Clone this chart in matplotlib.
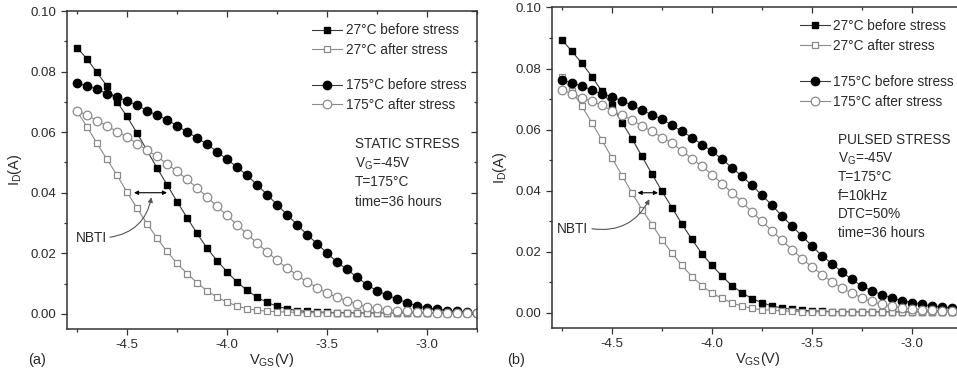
import matplotlib
matplotlib.use("Agg")
import matplotlib.pyplot as plt
import matplotlib.ticker as mticker

plt.rcParams["font.family"] = ["Liberation Sans", "DejaVu Sans"]
plt.rcParams["mathtext.fontset"] = "custom"
plt.rcParams["mathtext.rm"] = "Liberation Sans"
plt.rcParams["mathtext.it"] = "Liberation Sans"

# gate voltage sweep (V), same grid for every curve
VGS = [-4.75, -4.70, -4.65, -4.60, -4.55, -4.50, -4.45, -4.40, -4.35, -4.30,
       -4.25, -4.20, -4.15, -4.10, -4.05, -4.00, -3.95, -3.90, -3.85, -3.80,
       -3.75, -3.70, -3.65, -3.60, -3.55, -3.50, -3.45, -3.40, -3.35, -3.30,
       -3.25, -3.20, -3.15, -3.10, -3.05, -3.00, -2.95, -2.90, -2.85, -2.80,
       -2.75]

# (a) static stress, drain current I_D (A)
A_27_BEFORE = [0.0879, 0.0842, 0.0797, 0.0752, 0.0700, 0.0652, 0.0597, 0.0540, 0.0482, 0.0427,
               0.0371, 0.0318, 0.0266, 0.0217, 0.0176, 0.0139, 0.0105, 0.0078, 0.0055, 0.0038,
               0.0025, 0.0017, 0.0011, 0.0008, 0.0006, 0.0005, 0.0004, 0.0004, 0.0003, 0.0003,
               0.0003, 0.0003, 0.0003, 0.0003, 0.0003, 0.0003, 0.0003, 0.0003, 0.0003, 0.0003,
               0.0003]
A_27_AFTER = [0.0669, 0.0618, 0.0563, 0.0510, 0.0458, 0.0402, 0.0349, 0.0298, 0.0250, 0.0206,
              0.0167, 0.0133, 0.0103, 0.0076, 0.0055, 0.0039, 0.0026, 0.0017, 0.0012, 0.0009,
              0.0007, 0.0006, 0.0005, 0.0004, 0.0004, 0.0003, 0.0003, 0.0003, 0.0003, 0.0003,
              0.0003, 0.0003, 0.0003, 0.0003, 0.0003, 0.0003, 0.0003, 0.0003, 0.0003, 0.0003,
              0.0003]
A_175_BEFORE = [0.0762, 0.0753, 0.0742, 0.0727, 0.0715, 0.0703, 0.0689, 0.0671, 0.0656, 0.0641,
                0.0621, 0.0601, 0.0581, 0.0560, 0.0536, 0.0510, 0.0485, 0.0457, 0.0427, 0.0394,
                0.0361, 0.0328, 0.0295, 0.0262, 0.0232, 0.0201, 0.0171, 0.0147, 0.0121, 0.0096,
                0.0076, 0.0062, 0.0049, 0.0037, 0.0026, 0.0019, 0.0015, 0.0011, 0.0008, 0.0006,
                0.0004]
A_175_AFTER = [0.0669, 0.0657, 0.0637, 0.0621, 0.0602, 0.0584, 0.0562, 0.0541, 0.0520, 0.0495,
               0.0471, 0.0444, 0.0416, 0.0386, 0.0355, 0.0325, 0.0294, 0.0264, 0.0234, 0.0205,
               0.0177, 0.0151, 0.0129, 0.0105, 0.0087, 0.0068, 0.0055, 0.0043, 0.0032, 0.0024,
               0.0018, 0.0013, 0.0010, 0.0008, 0.0006, 0.0005, 0.0004, 0.0004, 0.0003, 0.0003,
               0.0003]

# (b) pulsed stress
B_27_BEFORE = [0.0894, 0.0856, 0.0817, 0.0773, 0.0725, 0.0679, 0.0623, 0.0570, 0.0512, 0.0454,
               0.0398, 0.0344, 0.0290, 0.0240, 0.0193, 0.0155, 0.0120, 0.0088, 0.0066, 0.0046,
               0.0033, 0.0022, 0.0016, 0.0011, 0.0008, 0.0006, 0.0005, 0.0004, 0.0004, 0.0003,
               0.0003, 0.0003, 0.0003, 0.0003, 0.0003, 0.0003, 0.0003, 0.0003, 0.0003, 0.0003,
               0.0003]
B_27_AFTER = [0.0772, 0.0726, 0.0676, 0.0622, 0.0565, 0.0507, 0.0449, 0.0393, 0.0338, 0.0289,
              0.0239, 0.0195, 0.0155, 0.0118, 0.0089, 0.0064, 0.0047, 0.0032, 0.0022, 0.0014,
              0.0010, 0.0008, 0.0006, 0.0005, 0.0004, 0.0003, 0.0003, 0.0003, 0.0003, 0.0003,
              0.0003, 0.0003, 0.0003, 0.0003, 0.0003, 0.0003, 0.0003, 0.0003, 0.0003, 0.0003,
              0.0003]
B_175_BEFORE = [0.0762, 0.0753, 0.0743, 0.0729, 0.0716, 0.0707, 0.0694, 0.0680, 0.0663, 0.0649,
                0.0634, 0.0614, 0.0594, 0.0574, 0.0551, 0.0529, 0.0503, 0.0475, 0.0447, 0.0417,
                0.0385, 0.0352, 0.0317, 0.0284, 0.0251, 0.0219, 0.0186, 0.0161, 0.0133, 0.0109,
                0.0087, 0.0072, 0.0059, 0.0048, 0.0040, 0.0033, 0.0027, 0.0022, 0.0019, 0.0016,
                0.0014]
B_175_AFTER = [0.0731, 0.0717, 0.0705, 0.0692, 0.0680, 0.0661, 0.0647, 0.0631, 0.0612, 0.0594,
               0.0574, 0.0555, 0.0530, 0.0505, 0.0480, 0.0452, 0.0423, 0.0393, 0.0363, 0.0330,
               0.0299, 0.0268, 0.0237, 0.0207, 0.0177, 0.0150, 0.0125, 0.0101, 0.0081, 0.0064,
               0.0048, 0.0037, 0.0027, 0.0021, 0.0016, 0.0012, 0.0010, 0.0008, 0.0007, 0.0006,
               0.0005]

LABELS = ["27°C before stress", "27°C after stress", "175°C before stress", "175°C after stress"]
NOTE_A = ["STATIC STRESS", "V$_{\\mathrm{G}}$=-45V", "T=175°C", "time=36 hours"]
NOTE_B = ["PULSED STRESS", "V$_{\\mathrm{G}}$=-45V", "T=175°C", "f=10kHz", "DTC=50%", "time=36 hours"]

DARK  = "#3a3a3a"
LIGHT = "#8a8a8a"
TEXT  = "#2a2a2a"

# marker styles: filled square, open square, filled circle, open circle
STYLES = [
    dict(marker="s", ms=5.0, mfc="black", mec="black", color=DARK),
    dict(marker="s", ms=5.0, mfc="white", mec=LIGHT, mew=0.9, color=LIGHT),
    dict(marker="o", ms=6.0, mfc="black", mec="black", color=DARK),
    dict(marker="o", ms=6.2, mfc="white", mec=LIGHT, mew=0.9, color=LIGHT),
]


def style_axes(ax, xmax):
    ax.set_xlim(-4.8, xmax)
    ax.set_ylim(-0.005, 0.10)
    ax.xaxis.set_major_locator(mticker.MultipleLocator(0.5))
    ax.xaxis.set_minor_locator(mticker.MultipleLocator(0.25))
    ax.yaxis.set_major_locator(mticker.MultipleLocator(0.02))
    ax.yaxis.set_minor_locator(mticker.MultipleLocator(0.01))
    ax.yaxis.set_major_formatter(mticker.FormatStrFormatter("%.2f"))
    ax.xaxis.set_major_formatter(mticker.FormatStrFormatter("%.1f"))
    for s in ax.spines.values():
        s.set_color("#333333")
        s.set_linewidth(1.1)
    ax.tick_params(which="both", direction="out", colors="#333333", labelcolor=TEXT,
                   labelsize=9.5, width=0.9)
    ax.tick_params(which="major", length=4)
    ax.tick_params(which="minor", length=2.5)
    # Origin-style: ticks mirrored inward on top/right
    sec_x = ax.secondary_xaxis("top")
    sec_y = ax.secondary_yaxis("right")
    for sec in (sec_x, sec_y):
        sec.tick_params(which="both", direction="in", colors="#333333", width=0.9)
        sec.tick_params(which="major", length=4)
        sec.tick_params(which="minor", length=2.5)
        sec.spines[:].set_visible(False)
    sec_x.xaxis.set_major_locator(mticker.MultipleLocator(0.5))
    sec_x.xaxis.set_minor_locator(mticker.MultipleLocator(0.25))
    sec_x.set_xticklabels([])
    sec_y.yaxis.set_major_locator(mticker.MultipleLocator(0.02))
    sec_y.yaxis.set_minor_locator(mticker.MultipleLocator(0.01))
    sec_y.set_yticklabels([])
    ax.set_xlabel("V$_{\\mathrm{GS}}$(V)", fontsize=10.5, color=TEXT, labelpad=0)
    ax.set_ylabel("I$_{\\mathrm{D}}$(A)", fontsize=10.5, color=TEXT, labelpad=5)


def add_legend(ax, handles, labels, anchor):
    leg = ax.legend(handles, labels, loc="upper left", bbox_to_anchor=anchor,
                    frameon=False, fontsize=9.8, handlelength=2.2, handletextpad=0.25,
                    labelspacing=0.42, borderpad=0, borderaxespad=0)
    for t in leg.get_texts():
        t.set_color(TEXT)
    return leg


def draw_panel(ax, series, notes, note_xy, note_step, arrow, curve, nbti_xy, legend_pos, xmax):
    handles = []
    for ys, st in zip(series, STYLES):
        h, = ax.plot(VGS, ys, lw=0.8, clip_on=True, **st)
        handles.append(h)
    style_axes(ax, xmax)

    # two legend blocks: 27°C pair on top, 175°C pair below it
    lx, ly_top, ly_bot = legend_pos
    leg1 = add_legend(ax, handles[:2], LABELS[:2], (lx, ly_top))
    ax.add_artist(leg1)
    add_legend(ax, handles[2:], LABELS[2:], (lx, ly_bot))

    x0, y0 = note_xy
    for i, line in enumerate(notes):
        ax.text(x0, y0 - i * note_step, line, fontsize=9.8, color=TEXT, va="center", ha="left")

    # horizontal double arrow showing the NBTI shift
    ax.annotate("", xy=arrow[1], xytext=arrow[0],
                arrowprops=dict(arrowstyle="<|-|>", color="black", lw=0.8,
                                mutation_scale=6, shrinkA=0, shrinkB=0))
    ax.annotate("", xy=curve[1], xytext=curve[0],
                arrowprops=dict(arrowstyle="-|>", color="#555555", lw=0.8,
                                mutation_scale=7, shrinkA=0, shrinkB=0,
                                connectionstyle="arc3,rad=0.35"))
    ax.text(nbti_xy[0], nbti_xy[1], "NBTI", fontsize=9.8, color=TEXT, va="center", ha="left")


fig = plt.figure(figsize=(9.57, 3.76), dpi=100)
ax_a = fig.add_axes([0.0700, 0.125, 0.4284, 0.8457])
ax_b = fig.add_axes([0.5768, 0.1277, 0.4295, 0.8524])

draw_panel(ax_a, [A_27_BEFORE, A_27_AFTER, A_175_BEFORE, A_175_AFTER], NOTE_A,
           note_xy=(-3.362, 0.0560), note_step=0.0063,
           arrow=((-4.465, 0.0400), (-4.30, 0.0400)),
           curve=((-4.585, 0.0253), (-4.378, 0.0385)),
           nbti_xy=(-4.755, 0.0252),
           legend_pos=(0.598, 0.961, 0.788), xmax=-2.75)

draw_panel(ax_b, [B_27_BEFORE, B_27_AFTER, B_175_BEFORE, B_175_AFTER], NOTE_B,
           note_xy=(-3.37, 0.0565), note_step=0.00605,
           arrow=((-4.372, 0.0393), (-4.27, 0.0393)),
           curve=((-4.60, 0.0275), (-4.313, 0.0372)),
           nbti_xy=(-4.775, 0.0275),
           legend_pos=(0.603, 0.964, 0.789), xmax=-2.745)

fig.text(28 / 957, 1 - 360 / 376, "(a)", fontsize=10.5, color=TEXT, va="center", ha="left")
fig.text(507 / 957, 1 - 360 / 376, "(b)", fontsize=10.5, color=TEXT, va="center", ha="left")

fig.savefig("out.png", dpi=100)
